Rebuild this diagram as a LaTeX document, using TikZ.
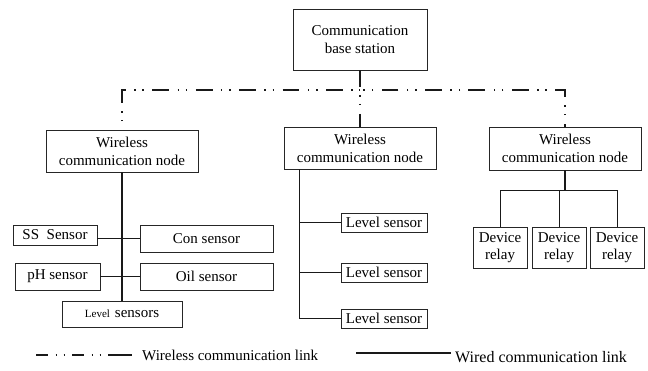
\documentclass[tikz,border=0pt]{standalone}
\usepackage{fontspec}
\setmainfont{Liberation Serif}
\begin{document}
\begin{tikzpicture}[x=1pt,y=-1pt,
  box/.style={draw=black!85, line width=0.75pt, inner sep=0pt, align=center,
              font=\fontsize{15}{18}\selectfont},
  relaybox/.style={box, font=\fontsize{15}{16.5}\selectfont},
  wired/.style={line width=1pt, draw=black!90},
  wireless/.style={line width=1.5pt, draw=black!90,
     dash pattern=on 16.7pt off 8.4pt on 1.5pt off 6.8pt on 1.5pt off 8.5pt},
  lbl/.style={inner sep=0pt, font=\fontsize{15}{18}\selectfont}]
\useasboundingbox (0,0) rectangle (648,370);

% base station and the three wireless nodes
\node[box, minimum width=134pt, minimum height=61pt] (base) at (360,39.5) {Communication\\base station};
\node[box, minimum width=152pt, minimum height=42pt] (wl) at (122,151) {Wireless\\communication node};
\node[box, minimum width=152pt, minimum height=42pt] (wm) at (360,148) {Wireless\\communication node};
\node[box, minimum width=152pt, minimum height=43pt] (wr) at (565,148.5) {Wireless\\communication node};

% left group of sensors
\node[box, minimum width=84pt, minimum height=20pt] (ss) at (55,235) {SS\ \ Sensor};
\node[box, minimum width=133pt, minimum height=27pt] (con) at (206.5,238.5) {Con sensor};
\node[box, minimum width=85pt, minimum height=27pt] (ph) at (57.5,276.5) {pH sensor};
\node[box, minimum width=133pt, minimum height=27pt] (oil) at (206.5,276.5) {Oil sensor};
\node[box, minimum width=120pt, minimum height=26pt] (lvl) at (122,314)
  {{\fontsize{11}{13}\selectfont Level}\hspace{5pt}sensors};

% middle group of level sensors
\node[box, minimum width=86pt, minimum height=19pt] (l1) at (384,222.5) {Level sensor};
\node[box, minimum width=86pt, minimum height=19pt] (l2) at (384,272.5) {Level sensor};
\node[box, minimum width=86pt, minimum height=19pt] (l3) at (384,318.5) {Level sensor};

% right group of relays
\node[relaybox, minimum width=54pt, minimum height=41pt] (r1) at (500,247.5) {Device\\relay};
\node[relaybox, minimum width=54pt, minimum height=41pt] (r2) at (559,247.5) {Device\\relay};
\node[relaybox, minimum width=54pt, minimum height=41pt] (r3) at (617,247.5) {Device\\relay};

% wireless links
\coordinate (jl) at (122,90);
\coordinate (jm) at (360,90);
\coordinate (jr) at (565,90);
\draw[wireless, dash phase=16.7pt] (wl.north) -- (jl) -- (jm);
\draw[wireless, dash phase=13.7pt] (wr.north) -- (jr) -- (jm);
\draw[wireless] (base.south) -- (wm.north);

% wired links, left
\draw[wired, line width=1.6pt] (wl.south) -- (lvl.north);
\draw[wired] (ss.east |- con.west) -- (con.west);
\draw[wired] (ph.east |- oil.west) -- (oil.west);

% wired links, middle
\coordinate (mx) at (299,0);
\draw[wired] (mx |- wm.south) |- (l3.west);
\draw[wired] (mx |- l1.west) -- (l1.west);
\draw[wired] (mx |- l2.west) -- (l2.west);

% wired links, right
\coordinate (rbus) at (565,190);
\draw[wired, line width=1.3pt] (wr.south) -- (rbus);
\draw[wired] (r1.north) |- (rbus -| r3.north) -- (r3.north);
\draw[wired] (r2.north) -- (r2.north |- rbus);

% legend
\coordinate (lw1) at (36,355);
\coordinate (lw2) at (132,355);
\draw[wireless, dash pattern=on 12pt off 7.5pt on 1.5pt off 6.5pt on 1.5pt off 7pt
      on 12pt off 7.5pt on 1.5pt off 6.5pt on 1.5pt off 7pt on 24pt off 10pt] (lw1) -- (lw2);
\node[lbl, anchor=west] (lwt) at (142,355) {Wireless communication link};
\coordinate (ld1) at (356,353);
\coordinate (ld2) at (451,353);
\draw[wired, line width=1.3pt] (ld1) -- (ld2);
\node[lbl, anchor=west, font=\fontsize{16}{19}\selectfont] (ldt) at (455,357) {Wired communication link};
\end{tikzpicture}
\end{document}
